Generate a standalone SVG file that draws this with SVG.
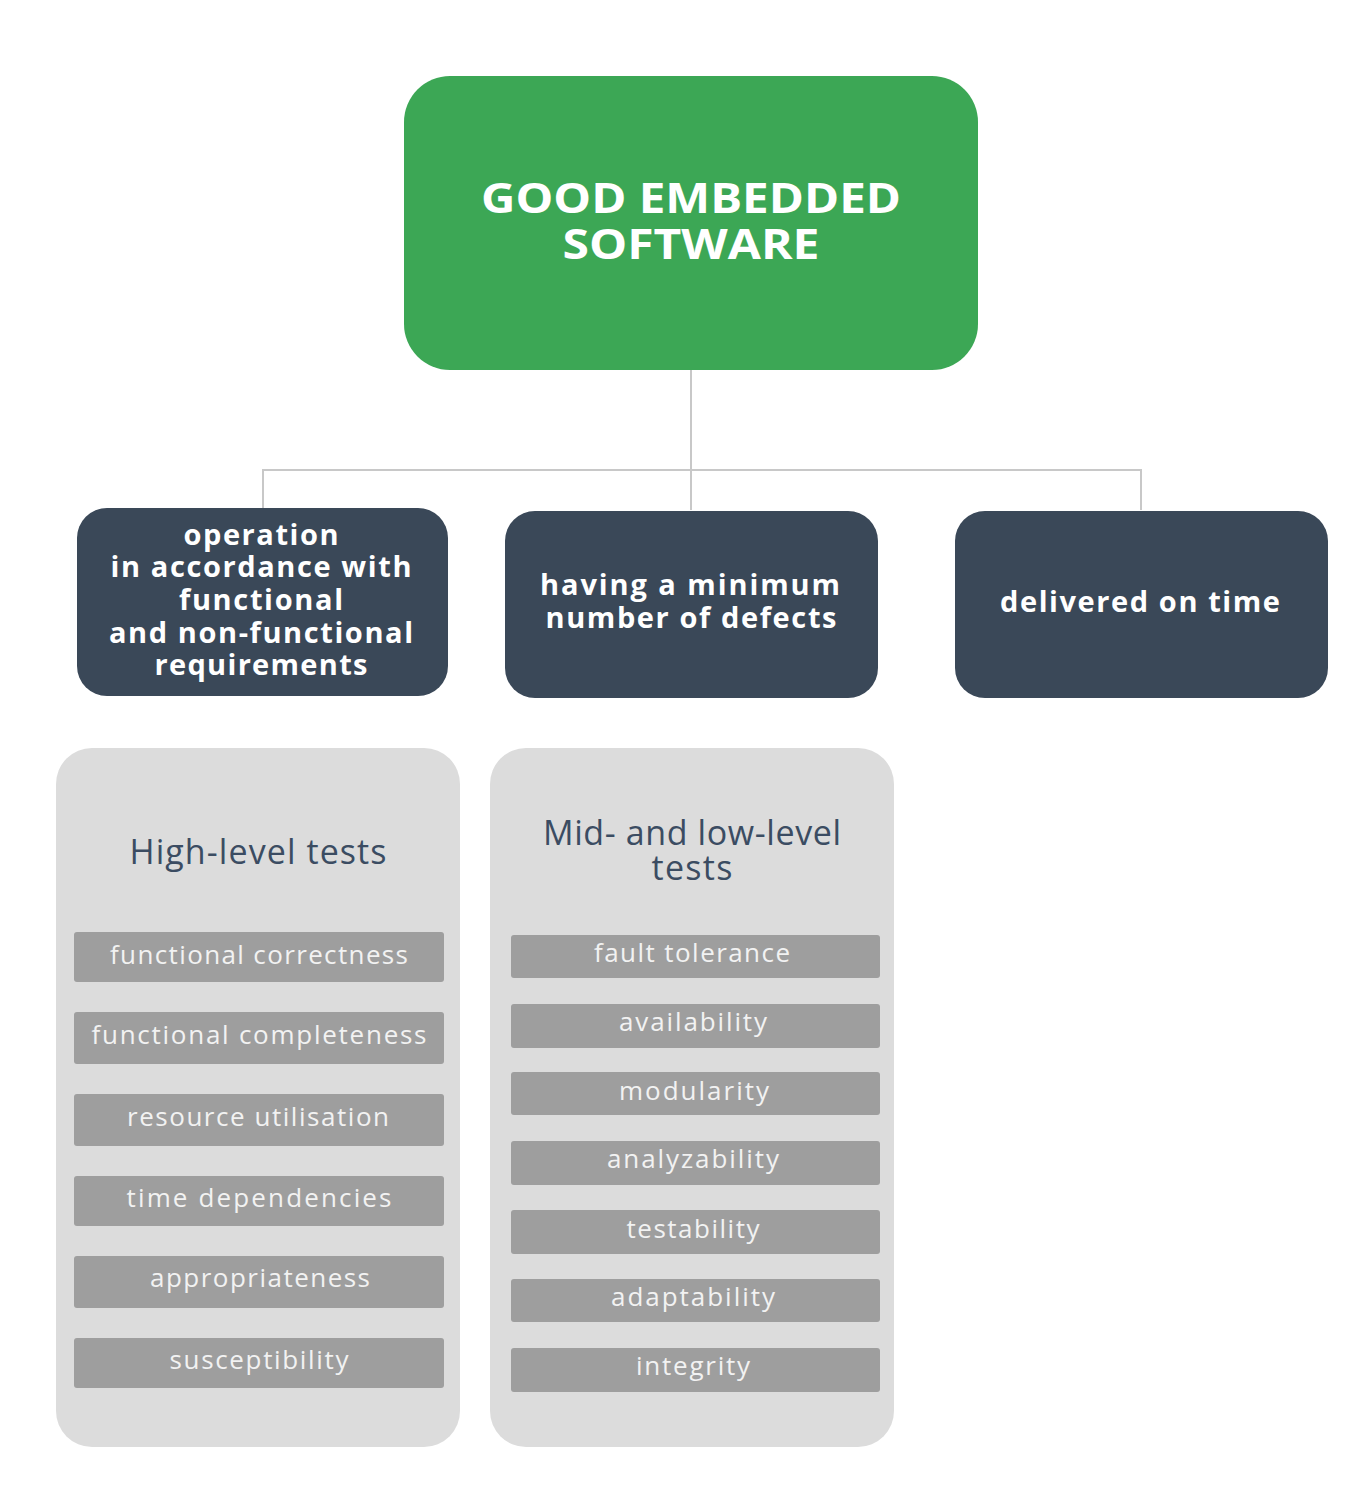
<svg xmlns="http://www.w3.org/2000/svg" width="1354" height="1490" viewBox="0 0 1354 1490">
<style>
.bg{fill:#ffffff}
.root{fill:#3ca755}
.mid{fill:#3a4858}
.panel{fill:#dcdcdc}
.item{fill:#9e9e9e}
.t{font-family:"Open Sans","DejaVu Sans",sans-serif;text-anchor:middle}
.rt{fill:#ffffff;font-weight:700;font-size:42px}
.mt{fill:#ffffff;font-weight:700;font-size:29px}
.ht{fill:#3b4c62;font-size:34px}
.it{fill:#f2f2f2;font-size:26px}
.con{fill:none;stroke:#c8c8c8;stroke-width:2}
</style>
<rect class="bg" x="0" y="0" width="1354" height="1490"/>
<g id="connectors">
<path class="con" d="M691 370 V510 M263 508 V470 H1141 V510"/>
</g>
<g id="root">
<rect class="root" x="404" y="76" width="574" height="294" rx="46"/>
<text class="t rt" x="691" y="213" textLength="420" lengthAdjust="spacingAndGlyphs">GOOD EMBEDDED</text>
<text class="t rt" x="691" y="259" textLength="257" lengthAdjust="spacingAndGlyphs">SOFTWARE</text>
</g>
<g id="req">
<rect class="mid" x="77" y="508" width="371" height="188" rx="30"/>
<text class="t mt" x="261" y="545" textLength="155" lengthAdjust="spacing">operation</text>
<text class="t mt" x="261" y="577" textLength="301" lengthAdjust="spacing">in accordance with</text>
<text class="t mt" x="261" y="610" textLength="164" lengthAdjust="spacing">functional</text>
<text class="t mt" x="261" y="643" textLength="304" lengthAdjust="spacing">and non-functional</text>
<text class="t mt" x="261" y="675" textLength="213" lengthAdjust="spacing">requirements</text>
</g>
<g id="defects">
<rect class="mid" x="505" y="511" width="373" height="187" rx="30"/>
<text class="t mt" x="690" y="595" textLength="300" lengthAdjust="spacing">having a minimum</text>
<text class="t mt" x="691" y="628" textLength="291" lengthAdjust="spacing">number of defects</text>
</g>
<g id="ontime">
<rect class="mid" x="955" y="511" width="373" height="187" rx="30"/>
<text class="t mt" x="1140" y="612" textLength="280" lengthAdjust="spacing">delivered on time</text>
</g>
<g id="high">
<rect class="panel" x="56" y="748" width="404" height="699" rx="36"/>
<text class="t ht" x="258" y="864" textLength="257" lengthAdjust="spacing">High-level tests</text>
<rect class="item" x="74" y="932" width="370" height="50" rx="3"/>
<text class="t it" x="259" y="964" textLength="298" lengthAdjust="spacing">functional correctness</text>
<rect class="item" x="74" y="1012" width="370" height="52" rx="3"/>
<text class="t it" x="259" y="1044" textLength="335" lengthAdjust="spacing">functional completeness</text>
<rect class="item" x="74" y="1094" width="370" height="52" rx="3"/>
<text class="t it" x="258" y="1126" textLength="262" lengthAdjust="spacing">resource utilisation</text>
<rect class="item" x="74" y="1176" width="370" height="50" rx="3"/>
<text class="t it" x="259" y="1207" textLength="265" lengthAdjust="spacing">time dependencies</text>
<rect class="item" x="74" y="1256" width="370" height="52" rx="3"/>
<text class="t it" x="260" y="1287" textLength="220" lengthAdjust="spacing">appropriateness</text>
<rect class="item" x="74" y="1338" width="370" height="50" rx="3"/>
<text class="t it" x="259" y="1369" textLength="179" lengthAdjust="spacing">susceptibility</text>
</g>
<g id="midlow">
<rect class="panel" x="490" y="748" width="404" height="699" rx="36"/>
<text class="t ht" x="692" y="845" textLength="298" lengthAdjust="spacing">Mid- and low-level</text>
<text class="t ht" x="692" y="880" textLength="81" lengthAdjust="spacing">tests</text>
<rect class="item" x="511" y="935" width="369" height="43" rx="3"/>
<text class="t it" x="692" y="962" textLength="196" lengthAdjust="spacing">fault tolerance</text>
<rect class="item" x="511" y="1004" width="369" height="44" rx="3"/>
<text class="t it" x="693" y="1031" textLength="148" lengthAdjust="spacing">availability</text>
<rect class="item" x="511" y="1072" width="369" height="43" rx="3"/>
<text class="t it" x="694" y="1100" textLength="150" lengthAdjust="spacing">modularity</text>
<rect class="item" x="511" y="1141" width="369" height="44" rx="3"/>
<text class="t it" x="693" y="1168" textLength="172" lengthAdjust="spacing">analyzability</text>
<rect class="item" x="511" y="1210" width="369" height="44" rx="3"/>
<text class="t it" x="693" y="1238" textLength="133" lengthAdjust="spacing">testability</text>
<rect class="item" x="511" y="1279" width="369" height="43" rx="3"/>
<text class="t it" x="693" y="1306" textLength="164" lengthAdjust="spacing">adaptability</text>
<rect class="item" x="511" y="1348" width="369" height="44" rx="3"/>
<text class="t it" x="693" y="1375" textLength="114" lengthAdjust="spacing">integrity</text>
</g>
</svg>
